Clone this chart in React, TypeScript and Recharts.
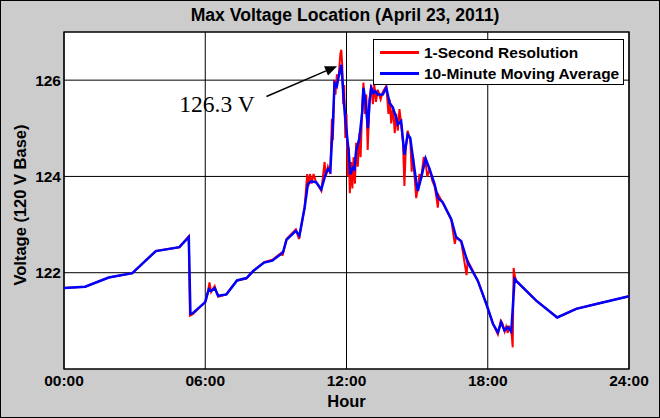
import { LineChart, Line, XAxis, YAxis, CartesianGrid, ReferenceArea, ReferenceLine, ReferenceDot, Legend } from 'recharts';

const hourTicks = [0, 6, 12, 18, 24];
const voltTicks = [122, 124, 126];

// 1-second resolution trace (hours, volts)
const secondHours = [
  0, 0.9, 1.9, 2.9, 3.9, 4.9, 5.3, 5.35, 5.47, 6.0, 6.12, 6.18, 6.25, 6.4, 6.55, 6.9, 7.35, 7.75, 8.05, 8.5,
  8.85, 9.25, 9.28, 9.45, 9.85, 9.98, 10.22, 10.33, 10.38, 10.45, 10.52, 10.6, 10.71, 10.93, 11.07, 11.12, 11.21, 11.31, 11.38, 11.42,
  11.49, 11.53, 11.59, 11.67, 11.74, 11.78, 11.82, 11.86, 11.9, 11.95, 12.0, 12.05, 12.1, 12.14, 12.2, 12.25, 12.3, 12.36, 12.41, 12.48,
  12.55, 12.6, 12.67, 12.72, 12.78, 12.84, 12.9, 12.98, 13.05, 13.12, 13.18, 13.25, 13.33, 13.45, 13.54, 13.69, 13.78, 13.83, 13.9, 13.97,
  14.05, 14.11, 14.18, 14.25, 14.32, 14.4, 14.46, 14.52, 14.6, 14.71, 14.77, 14.82, 14.9, 14.96, 15.03, 15.1, 15.17, 15.28, 15.36, 15.43,
  15.53, 15.65, 15.74, 15.81, 15.88, 15.92, 16.09, 16.45, 16.6, 16.66, 16.87, 17.1, 17.15, 17.58, 17.94, 18.22, 18.43, 18.55, 18.62, 18.72,
  18.78, 18.85, 18.92, 19.02, 19.06, 19.1, 19.14, 19.21, 20.06, 20.95, 21.76, 22.61, 24,
];
const secondVolts = [
  121.68, 121.71, 121.9, 121.99, 122.45, 122.53, 122.76, 121.11, 121.14, 121.39, 121.62, 121.8, 121.6, 121.72, 121.5, 121.55, 121.84, 121.88, 122.04, 122.22,
  122.27, 122.42, 122.35, 122.7, 122.9, 122.7, 123.35, 124.05, 123.8, 124.05, 123.85, 124.05, 123.88, 123.7, 124.3, 124.0, 124.2, 124.05, 125.2, 124.75,
  126.0, 125.7, 126.1, 126.1, 126.55, 126.63, 126.3, 125.5, 125.9, 124.8, 125.3, 124.0, 124.6, 123.65, 124.3, 123.75, 124.4, 123.85, 124.7, 124.2,
  124.9, 124.4, 125.5, 125.95, 125.3, 125.7, 124.55, 125.6, 125.9, 125.5, 125.9, 125.55, 125.8, 125.6, 125.75, 125.88, 125.3, 125.6, 125.1, 125.45,
  124.9, 125.3, 124.95, 125.4, 125.1, 124.7, 123.8, 124.6, 124.95, 124.75, 124.1, 124.45, 123.95, 123.55, 123.75, 124.05, 123.95, 124.4, 124.3, 124.0,
  124.15, 123.9, 123.8, 123.6, 123.35, 123.6, 123.45, 123.1, 122.6, 122.75, 122.65, 121.95, 122.25, 121.83, 121.35, 120.94, 120.72, 121.0, 120.95, 120.78,
  120.88, 120.75, 120.9, 120.7, 120.45, 122.1, 121.95, 121.83, 121.42, 121.07, 121.25, 121.35, 121.51,
];

// 10-minute moving average trace (hours, volts)
const averageHours = [
  0, 0.9, 1.9, 2.9, 3.9, 4.9, 5.3, 5.37, 5.47, 6.0, 6.15, 6.25, 6.4, 6.55, 6.9, 7.35, 7.75, 8.05, 8.5, 8.85,
  9.3, 9.45, 9.85, 10.0, 10.22, 10.36, 10.5, 10.71, 10.93, 11.11, 11.21, 11.31, 11.42, 11.49, 11.59, 11.67, 11.78, 11.84, 11.91, 11.99,
  12.09, 12.16, 12.27, 12.34, 12.41, 12.55, 12.67, 12.72, 12.81, 12.91, 12.98, 13.05, 13.15, 13.23, 13.33, 13.54, 13.69, 13.83, 13.97, 14.11,
  14.18, 14.32, 14.46, 14.6, 14.71, 14.82, 14.96, 15.03, 15.17, 15.36, 15.53, 15.74, 15.88, 16.09, 16.45, 16.66, 16.87, 17.15, 17.58, 17.94,
  18.22, 18.43, 18.57, 18.71, 18.85, 19.0, 19.14, 19.21, 20.06, 20.95, 21.76, 22.61, 24,
];
const averageVolts = [
  121.68, 121.71, 121.9, 121.99, 122.45, 122.53, 122.74, 121.15, 121.16, 121.39, 121.66, 121.62, 121.68, 121.52, 121.55, 121.84, 121.89, 122.04, 122.21, 122.25,
  122.42, 122.68, 122.87, 122.77, 123.35, 123.84, 123.9, 123.88, 123.73, 124.04, 124.15, 124.1, 125.08, 125.94, 125.87, 126.08, 126.32, 125.91, 125.42, 125.0,
  124.53, 124.04, 124.18, 124.15, 124.53, 124.8, 125.35, 125.84, 125.56, 125.0, 125.56, 125.84, 125.73, 125.77, 125.7, 125.7, 125.84, 125.53, 125.43, 125.22,
  125.08, 125.15, 124.45, 124.87, 124.8, 124.39, 123.9, 123.7, 123.97, 124.37, 124.15, 123.84, 123.56, 123.46, 123.11, 122.73, 122.66, 122.21, 121.83, 121.35,
  120.94, 120.76, 120.97, 120.8, 120.87, 120.78, 121.87, 121.83, 121.42, 121.07, 121.25, 121.35, 121.51,
];

const peakText = '126.3 V';
const peakTextAt = { x: 4.9, y: 125.33 };
const peakArrow = [{ x: 8.6, y: 125.66 }, { x: 11.6, y: 126.29 }];

const secondData = secondHours.map((h, i) => ({ h, v: secondVolts[i] }));
const averageData = averageHours.map((h, i) => ({ h, v: averageVolts[i] }));

const sans = '"Liberation Sans", Arial, sans-serif';
const fmtHour = (h: number) => `${String(h).padStart(2, '0')}:00`;

function Arrow(props: any) {
  const { x1, y1, x2, y2 } = props;
  const ang = Math.atan2(y2 - y1, x2 - x1);
  const len = 12;
  const half = 5;
  const bx = x2 - len * Math.cos(ang);
  const by = y2 - len * Math.sin(ang);
  const px = -Math.sin(ang) * half;
  const py = Math.cos(ang) * half;
  return (
    <g>
      <line x1={x1} y1={y1} x2={bx} y2={by} stroke="#000" strokeWidth={1.5} />
      <polygon points={`${x2},${y2} ${bx + px},${by + py} ${bx - px},${by - py}`} fill="#000" />
    </g>
  );
}

function PeakLabel(props: any) {
  return (
    <text x={props.cx} y={props.cy} fontFamily='"Liberation Serif", "Times New Roman", serif' fontSize={23.5} fill="#000">
      {peakText}
    </text>
  );
}

function LegendBox(props: any) {
  const items = props.payload || [];
  return (
    <div style={{ width: 249, height: 44, background: '#fff', border: '1px solid #000', fontFamily: sans, fontWeight: 700, fontSize: 15.5, color: '#000' }}>
      {items.map((it: any, i: number) => (
        <div key={i} style={{ display: 'flex', alignItems: 'center', height: 21, marginTop: i === 0 ? 2 : 0 }}>
          <span style={{ display: 'inline-block', width: 39, height: 2.5, background: it.color, marginLeft: 6, marginRight: 5 }} />
          <span style={{ whiteSpace: 'nowrap' }}>{it.value}</span>
        </div>
      ))}
    </div>
  );
}

export default function App() {
  return (
    <div style={{ position: 'absolute', left: 0, top: 0, width: 660, height: 418, boxSizing: 'border-box', border: '1px solid #000', background: '#cccccc', fontFamily: sans }}>
      <div style={{ position: 'absolute', left: 15, top: 5.8, width: 658, textAlign: 'center', fontSize: 17.6, fontWeight: 700, lineHeight: 1, whiteSpace: 'nowrap' }}>
        Max Voltage Location (April 23, 2011)
      </div>
      <div style={{ position: 'absolute', left: 19, top: 204, transform: 'translate(-50%, -50%) rotate(-90deg)', fontSize: 16.5, fontWeight: 700, lineHeight: 1, whiteSpace: 'nowrap' }}>
        Voltage (120 V Base)
      </div>
      <div style={{ position: 'absolute', left: 345.5, top: 392, transform: 'translateX(-50%)', fontSize: 16.5, fontWeight: 700, lineHeight: 1 }}>
        Hour
      </div>
      <LineChart width={658} height={416} margin={{ top: 31, right: 30, left: 8, bottom: 18 }}>
        <CartesianGrid fill="#fff" stroke="#000" strokeWidth={1} horizontalValues={voltTicks} verticalValues={hourTicks} />
        <XAxis
          type="number"
          dataKey="h"
          domain={[0, 24]}
          ticks={hourTicks}
          tickFormatter={fmtHour}
          allowDuplicatedCategory={false}
          axisLine={false}
          tickLine={false}
          tickSize={0}
          tickMargin={6}
          height={30}
          tick={{ fill: '#000', fontSize: 15.5, fontWeight: 700, fontFamily: sans }}
        />
        <YAxis
          type="number"
          domain={[120, 127]}
          ticks={voltTicks}
          axisLine={false}
          tickLine={false}
          tickSize={0}
          tickMargin={3}
          width={55}
          tick={{ fill: '#000', fontSize: 15.5, fontWeight: 700, fontFamily: sans }}
        />
        <ReferenceArea x1={0} x2={24} y1={120} y2={127} fill="none" stroke="#000" strokeWidth={1.3} ifOverflow="visible" />
        <Line data={secondData} dataKey="v" name="1-Second Resolution" stroke="#ff0000" strokeWidth={2} dot={false} isAnimationActive={false} />
        <Line data={averageData} dataKey="v" name="10-Minute Moving Average" stroke="#0000ff" strokeWidth={2.5} dot={false} isAnimationActive={false} />
        <ReferenceLine segment={peakArrow} shape={Arrow} ifOverflow="visible" />
        <ReferenceDot x={peakTextAt.x} y={peakTextAt.y} r={0} shape={PeakLabel} ifOverflow="visible" />
        <Legend layout="vertical" align="center" verticalAlign="middle" content={LegendBox} wrapperStyle={{ top: 38, left: 372, width: 251, height: 46 }} />
      </LineChart>
    </div>
  );
}
